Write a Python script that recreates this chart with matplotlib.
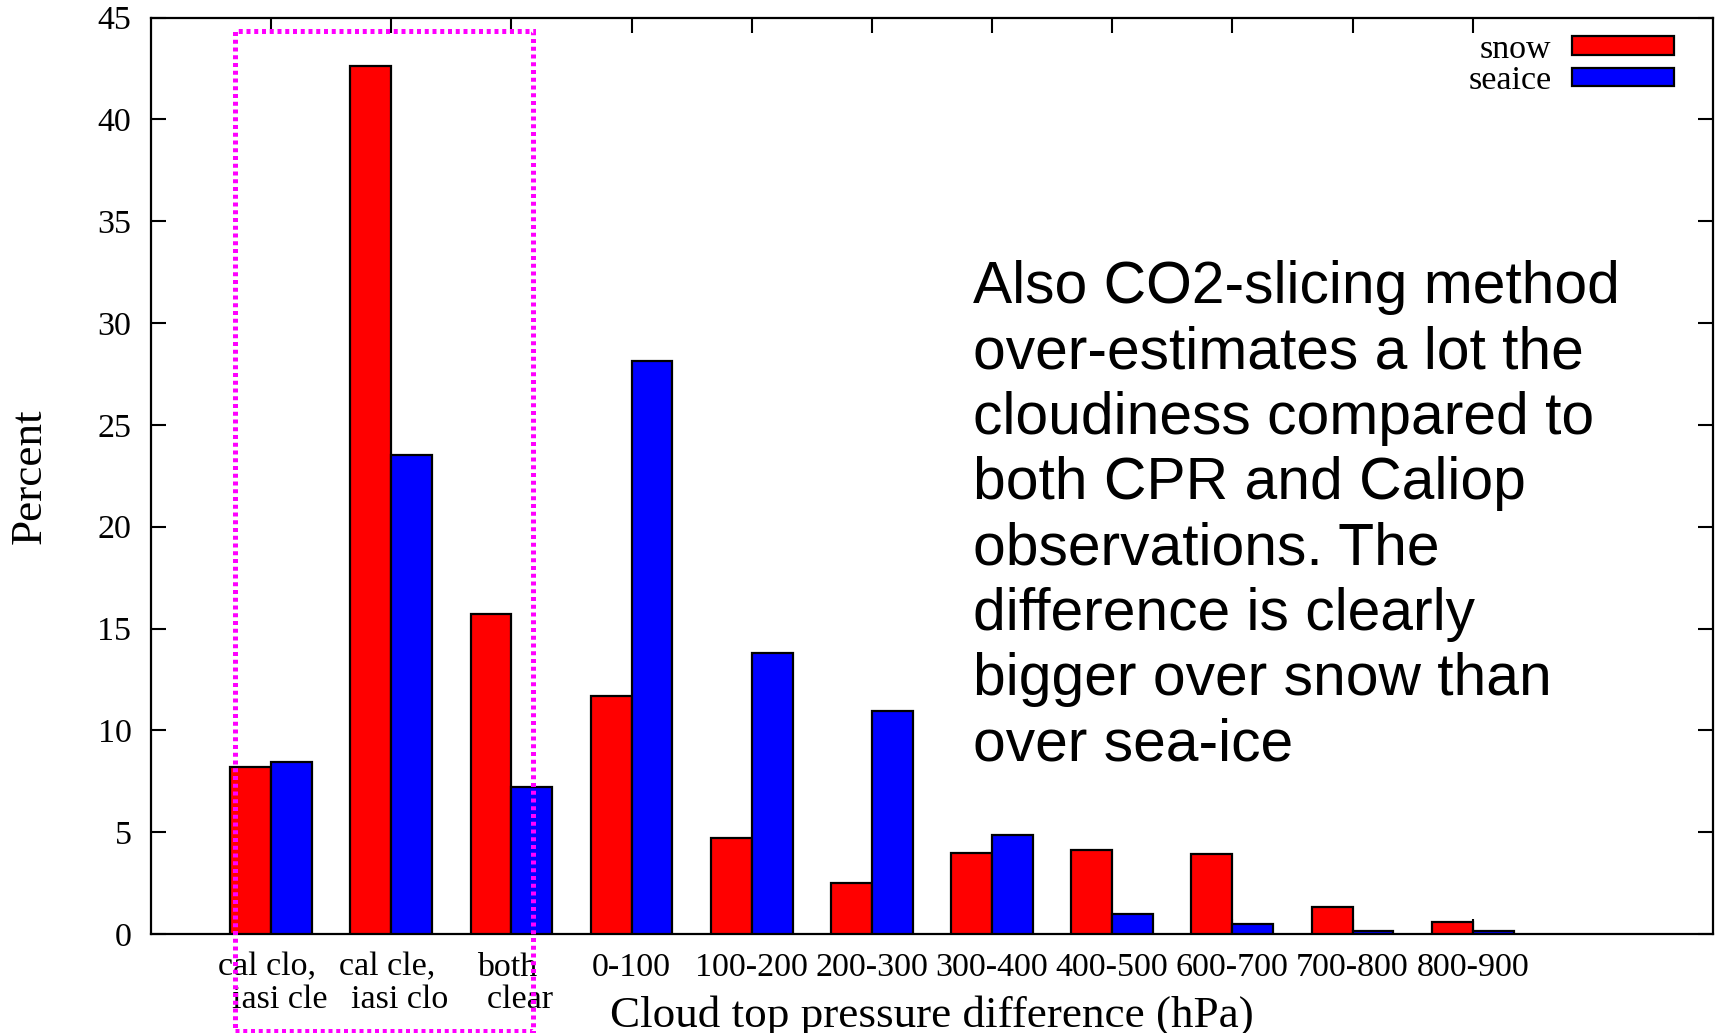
import matplotlib
matplotlib.use("Agg")
import matplotlib.pyplot as plt
from matplotlib.patches import Rectangle
import numpy as np

categories = ["cal clo, \n  iasi cle", "cal cle, \n  iasi clo", "both \n  clear", "0-100", "100-200",
              "200-300", "300-400", "400-500", "600-700", "700-800", "800-900"]
snow = [8.2, 42.6, 15.7, 11.7, 4.7, 2.5, 4.0, 4.15, 3.95, 1.35, 0.6]
seaice = [8.45, 23.5, 7.2, 28.15, 13.8, 10.95, 4.85, 0.97, 0.5, 0.15, 0.15]
yticks = [0, 5, 10, 15, 20, 25, 30, 35, 40, 45]
annotation = ("Also CO2-slicing method\nover-estimates a lot the\ncloudiness compared to\n"
              "both CPR and Caliop\nobservations. The\ndifference is clearly\n"
              "bigger over snow than\nover sea-ice")

serif = ["Liberation Serif", "DejaVu Serif"]
fig = plt.figure(figsize=(17.19, 10.33), dpi=100)
ax = fig.add_axes([0.0878, 0.0958, 0.9087, 0.8872])

x = np.arange(len(categories))
w = 0.34
ax.bar(x - w / 2, snow, w, color="#ff0000", edgecolor="black", linewidth=1.6, label="snow", zorder=3)
ax.bar(x + w / 2, seaice, w, color="#0000ff", edgecolor="black", linewidth=1.6, label="seaice", zorder=3)

ax.set_xlim(-1, 12)
ax.set_ylim(0, 45)
ax.set_yticks(yticks)
ax.set_xticks(x)
ax.set_xticklabels(categories, family=serif, fontsize=24.5, linespacing=1.06)
for lab in ax.get_yticklabels():
    lab.set_family(serif)
    lab.set_fontsize(24.5)
ax.tick_params(axis="both", direction="in", length=11, width=1.5, top=True, right=True)
ax.tick_params(axis="y", pad=14)
ax.tick_params(axis="x", pad=13)
for s in ax.spines.values():
    s.set_linewidth(1.6)

ax.set_xlabel("Cloud top pressure difference (hPa)", family=serif, fontsize=32.5, va="center")
ax.xaxis.set_label_coords(0.5, -0.0885)
ax.set_ylabel("Percent", family=serif, fontsize=32.5, va="center")
ax.yaxis.set_label_coords(-0.0775, 0.5)

rect = Rectangle((-0.3, -4.75), 2.48, 44.35 + 4.75, fill=False, edgecolor="#ff00ff",
                 linewidth=3.6, linestyle=(0, (0.8, 0.75)), clip_on=False, zorder=5)
ax.add_patch(rect)

ax.text(5.84, 33.1, annotation, family=["Liberation Sans", "DejaVu Sans"], fontsize=42.3,
        va="top", ha="left", linespacing=1.24)

leg = ax.legend(loc="upper right", bbox_to_anchor=(0.975, 0.982), frameon=False,
                markerfirst=False, prop={"family": serif, "size": 24.5},
                handlelength=3.0, handleheight=0.45, handletextpad=0.6,
                labelspacing=0.03, borderaxespad=0, borderpad=0)

fig.savefig("out.png", dpi=100)
